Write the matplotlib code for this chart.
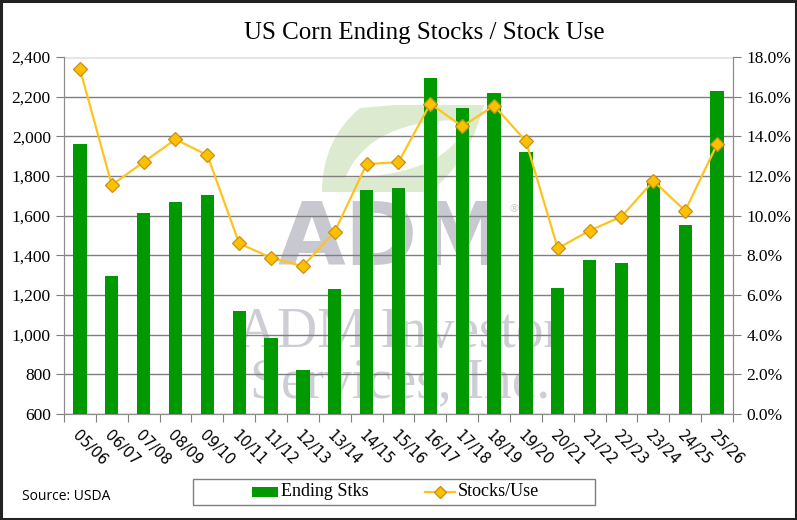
import matplotlib
matplotlib.use("Agg")
import matplotlib.pyplot as plt
import numpy as np
from matplotlib.patches import Rectangle, PathPatch
from matplotlib.path import Path
from matplotlib.lines import Line2D
from matplotlib.ticker import FuncFormatter, MultipleLocator

seasons = ["05/06", "06/07", "07/08", "08/09", "09/10", "10/11", "11/12", "12/13",
           "13/14", "14/15", "15/16", "16/17", "17/18", "18/19", "19/20", "20/21",
           "21/22", "22/23", "23/24", "24/25", "25/26"]
ending_stocks = [1960, 1295, 1615, 1670, 1705, 1120, 985, 822, 1232, 1731, 1737,
                 2293, 2141, 2221, 1919, 1235, 1377, 1360, 1770, 1553, 2228]
stocks_use = [17.4, 11.55, 12.7, 13.85, 13.05, 8.6, 7.88, 7.45, 9.2, 12.6, 12.7,
              15.65, 14.5, 15.55, 13.75, 8.35, 9.25, 9.95, 11.75, 10.25, 13.6]

BAR = "#009900"
LINE = "#FFC31F"
MFACE = "#FFC000"
MEDGE = "#C8901A"

W, H = 797, 520
fig = plt.figure(figsize=(W / 100, H / 100), dpi=100)
fig.patch.set_facecolor("white")

def fx(px):
    return px / W

def fy(py):
    return 1 - py / H

# background axes for the watermark
bg = fig.add_axes([0, 0, 1, 1], zorder=-5)
bg.set_xlim(0, W)
bg.set_ylim(H, 0)
bg.axis("off")
wm_col = "#CDCDD5"
bg.text(391, 241, "ADM", fontsize=63, fontweight="bold", family="DejaVu Sans",
        color="#C8C8D1", ha="center", va="center")
bg.text(514, 209, "®", fontsize=8, color="#C8C8D1", ha="center", va="center")
bg.text(400, 333, "ADM Investor", fontsize=40, family="Liberation Serif",
        color=wm_col, ha="center", va="center")
bg.text(400, 383, "Services, Inc.", fontsize=40, family="Liberation Serif",
        color=wm_col, ha="center", va="center")
# green swoosh (outer shape with a lens-shaped hole)
outer = [(322, 192), (322, 140), (360, 108), (395, 105), (484, 105),
         (470, 160), (430, 192), (400, 192), (322, 192)]
outer_codes = [Path.MOVETO, Path.CURVE3, Path.CURVE3, Path.LINETO, Path.LINETO,
               Path.CURVE3, Path.CURVE3, Path.LINETO, Path.CLOSEPOLY]
inner = [(345, 178), (370, 118), (468, 120), (450, 175), (345, 178)]
inner_codes = [Path.MOVETO, Path.CURVE3, Path.CURVE3, Path.CURVE3, Path.CURVE3]
inner = inner[::-1]
swoosh = Path(outer + inner, outer_codes + inner_codes)
bg.add_patch(PathPatch(swoosh, facecolor="#DCEBCF", edgecolor="none"))

ax = fig.add_axes([fx(64), fy(414), fx(733) - fx(64), fy(57) - fy(414)], zorder=1)
ax.patch.set_visible(False)

x = np.arange(len(seasons))
ax.bar(x, ending_stocks, width=0.42, color=BAR, zorder=3)
ax.set_xlim(-0.5, len(seasons) - 0.5)
ax.set_ylim(600, 2400)
ax.yaxis.set_major_locator(MultipleLocator(200))
ax.yaxis.set_major_formatter(FuncFormatter(lambda v, p: f"{int(v):,}"))
ax.set_axisbelow(True)
ax.grid(axis="y", color="#7F7F7F", linewidth=1.0)
ax.grid(axis="x", visible=False)

ax.set_xticks(np.arange(-0.5, len(seasons)), minor=False)
ax.set_xticklabels([])
ax.set_xticks(x, minor=True)
ax.set_xticklabels(seasons, minor=True, rotation=-45, ha="left", va="top",
                   rotation_mode="anchor", fontsize=10.5, family="DejaVu Sans")
ax.tick_params(axis="x", which="minor", length=0, pad=10)
ax.tick_params(axis="x", which="major", length=6, color="#7F7F7F", direction="out")
ax.tick_params(axis="y", length=6, color="#7F7F7F", labelsize=12.5)
for lab in ax.get_yticklabels():
    lab.set_family("Liberation Serif")

for s in ["left", "right", "bottom"]:
    ax.spines[s].set_color("#8C8C8C")
ax.spines["top"].set_color("#E6E6E6")

ax2 = ax.twinx()
ax2.plot(x, stocks_use, color=LINE, linewidth=1.6, marker="D", markersize=7,
         markerfacecolor=MFACE, markeredgecolor=MEDGE, markeredgewidth=0.9, zorder=5)
ax2.set_ylim(0, 18)
ax2.yaxis.set_major_locator(MultipleLocator(2))
ax2.yaxis.set_major_formatter(FuncFormatter(lambda v, p: f"{v:.1f}%"))
ax2.tick_params(axis="y", length=6, color="#7F7F7F", labelsize=12.5)
for lab in ax2.get_yticklabels():
    lab.set_family("Liberation Serif")
for s in ["left", "right", "bottom"]:
    ax2.spines[s].set_color("#8C8C8C")
ax2.spines["top"].set_visible(False)

fig.text(fx(424), fy(33), "US Corn Ending Stocks / Stock Use", fontsize=18,
         family="Liberation Serif", ha="center", va="center")
fig.text(fx(22), fy(497), "Source: USDA", fontsize=10, family="Open Sans",
         ha="left", va="center")

# legend drawn manually in pixel space
lg = fig.add_axes([0, 0, 1, 1], zorder=3)
lg.set_xlim(0, W)
lg.set_ylim(H, 0)
lg.axis("off")
lg.add_patch(Rectangle((193, 479), 402, 26, facecolor="white", edgecolor="#7F7F7F", linewidth=1.0))
lg.add_patch(Rectangle((252, 487), 26, 10, facecolor=BAR, edgecolor="none"))
lg.text(281, 492, "Ending Stks", fontsize=13, family="Liberation Serif", ha="left", va="center")
lg.add_line(Line2D([425, 455], [492, 492], color=LINE, linewidth=1.6))
lg.add_line(Line2D([440], [492], marker="D", markersize=6, markerfacecolor=MFACE,
                   markeredgecolor=MEDGE, linestyle="none"))
lg.text(458, 492, "Stocks/Use", fontsize=13, family="Liberation Serif", ha="left", va="center")

lg.add_patch(Rectangle((1, 1), W - 2, H - 2, fill=False, edgecolor="#222222", linewidth=2.2))

fig.savefig("out.png", dpi=100)
